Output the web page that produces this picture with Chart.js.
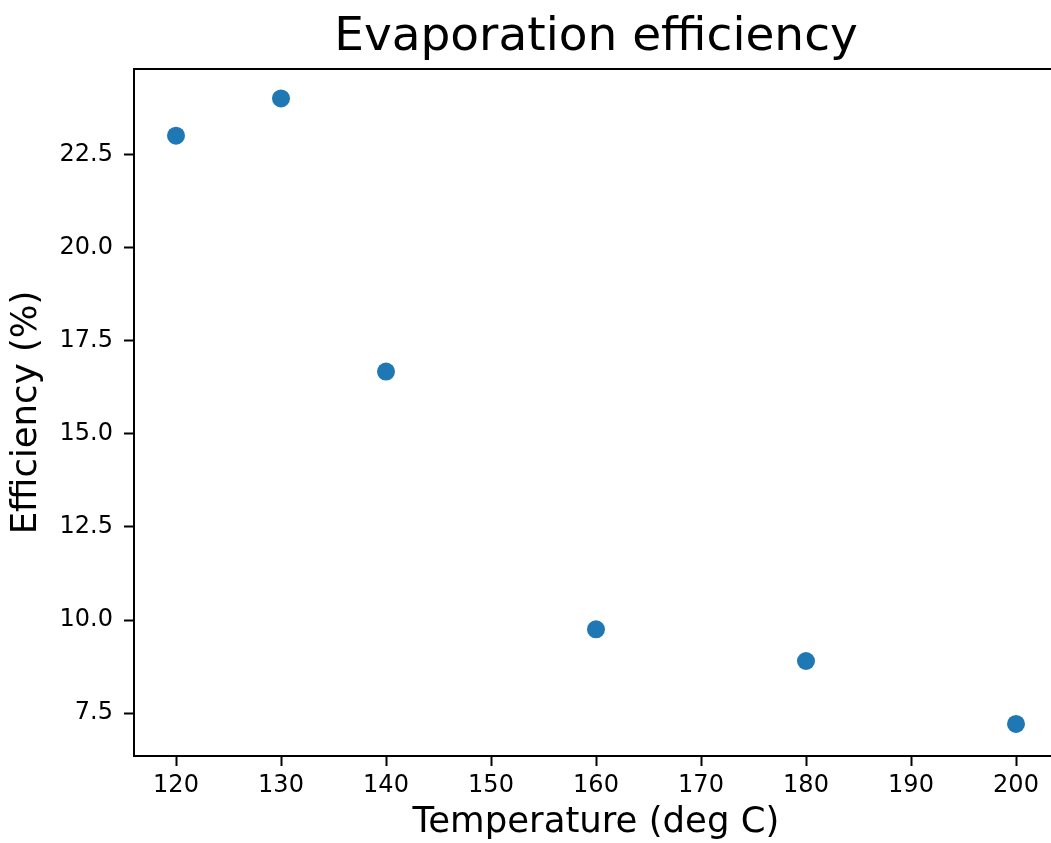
<!DOCTYPE html>
<html>
<head>
<meta charset="utf-8">
<script src="https://cdn.jsdelivr.net/npm/chart.js@4/dist/chart.umd.min.js"></script>
<style>
  html, body { margin: 0; padding: 0; overflow: hidden; background: #fff; }
  /* wider than the window so the right spine falls off-screen, like the reference */
  #wrap { position: absolute; left: 0; top: 0; width: 1088px; height: 843px; }
</style>
</head>
<body>
<div id="wrap"><canvas id="canvas"></canvas></div>
<script>
// Data
const temperatures = [120, 130, 140, 160, 180, 200];
const efficiency = [23.0, 24.0, 16.67, 9.75, 8.9, 7.21];
const xTicks = [120, 130, 140, 150, 160, 170, 180, 190, 200];
const yTicks = [7.5, 10.0, 12.5, 15.0, 17.5, 20.0, 22.5];

const FONT = "'DejaVu Sans', sans-serif";

// matplotlib draws a box round the axes; top and right edges are not axes here
const boxSpines = {
  id: 'boxSpines',
  afterDraw(chart) {
    const { ctx, chartArea } = chart;
    ctx.save();
    ctx.strokeStyle = '#000';
    ctx.lineWidth = 2;
    ctx.beginPath();
    ctx.moveTo(chartArea.left - 1, chartArea.top);
    ctx.lineTo(chartArea.right + 1, chartArea.top);
    ctx.moveTo(chartArea.right, chartArea.top);
    ctx.lineTo(chartArea.right, chartArea.bottom);
    ctx.stroke();
    ctx.restore();
  }
};

const canvas = document.getElementById('canvas');
new Chart(canvas.getContext('2d'), {
  type: 'scatter',
  data: {
    datasets: [{
      data: temperatures.map((t, i) => ({ x: t, y: efficiency[i] })),
      backgroundColor: '#1f77b4',
      borderColor: '#1f77b4',
      borderWidth: 0,
      pointRadius: 9,
      pointHoverRadius: 9
    }]
  },
  options: {
    responsive: true,
    maintainAspectRatio: false,
    animation: false,
    layout: { padding: { left: 0, right: 30, top: 0, bottom: 0 } },
    plugins: {
      legend: { display: false },
      tooltip: { enabled: false },
      title: {
        display: true,
        fullSize: false, // centre over the axes, not the canvas
        text: 'Evaporation efficiency',
        color: '#000',
        font: { family: FONT, size: 47, weight: 'normal', lineHeight: 1 },
        padding: { top: 14.5, bottom: 7.5 }
      }
    },
    scales: {
      x: {
        type: 'linear',
        min: 116,
        max: 204,
        afterBuildTicks: s => { s.ticks = xTicks.map(v => ({ value: v })); },
        afterFit: s => { s.height = 87; },
        grid: { drawOnChartArea: false, drawTicks: true, tickLength: 10, tickWidth: 2, tickColor: '#000' },
        border: { display: true, color: '#000', width: 2 },
        ticks: {
          color: '#000',
          padding: 5,
          maxRotation: 0,
          font: { family: FONT, size: 24 },
          callback: v => String(v)
        },
        title: {
          display: true,
          text: 'Temperature (deg C)',
          color: '#000',
          font: { family: FONT, size: 35.5, lineHeight: 1 },
          padding: { top: 0, bottom: 2.5 }
        }
      },
      y: {
        type: 'linear',
        min: 6.35,
        max: 24.79,
        afterBuildTicks: s => { s.ticks = yTicks.map(v => ({ value: v })); },
        afterFit: s => { s.width = 134; },
        grid: { drawOnChartArea: false, drawTicks: true, tickLength: 10, tickWidth: 2, tickColor: '#000' },
        border: { display: true, color: '#000', width: 2 },
        ticks: {
          color: '#000',
          padding: 11,
          font: { family: FONT, size: 24 },
          callback: v => Number(v).toFixed(1)
        },
        title: {
          display: true,
          text: 'Efficiency (%)',
          color: '#000',
          font: { family: FONT, size: 35.5, lineHeight: 1 },
          padding: { top: 9.5, bottom: 0 }
        }
      }
    }
  },
  plugins: [boxSpines]
});
</script>
</body>
</html>
